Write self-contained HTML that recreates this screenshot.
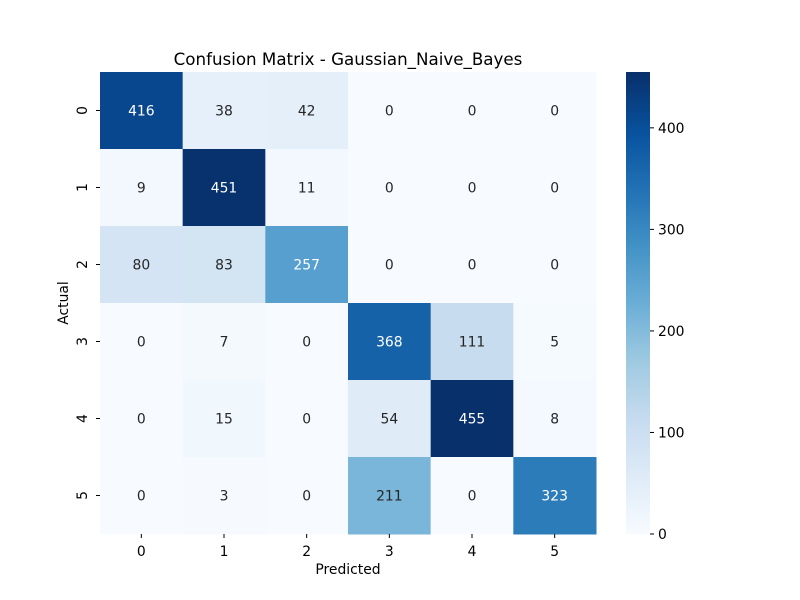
<!DOCTYPE html>
<html><head><meta charset="utf-8"><style>body{margin:0;background:#fff}svg{display:block;font-family:"DejaVu Sans","Liberation Sans",sans-serif}</style></head>
<body>
<svg id="chart" width="800" height="600" xmlns="http://www.w3.org/2000/svg">
<rect width="800" height="600" fill="#fff"/>
<text x="348" y="65" text-anchor="middle" font-size="16.7">Confusion Matrix - Gaussian_Naive_Bayes</text>
<g id="cells"></g><g id="axes"></g><g id="cbar"></g>
<text x="348" y="574" text-anchor="middle" font-size="13.9">Predicted</text>
<text transform="translate(68,303) rotate(-90)" text-anchor="middle" font-size="13.9">Actual</text>
</svg>
<script>
const classLabels = ["0","1","2","3","4","5"];
const row0 = [416,38,42,0,0,0];
const row1 = [9,451,11,0,0,0];
const row2 = [80,83,257,0,0,0];
const row3 = [0,7,0,368,111,5];
const row4 = [0,15,0,54,455,8];
const row5 = [0,3,0,211,0,323];
const matrix = [row0,row1,row2,row3,row4,row5];
const cbarTicks = [0,100,200,300,400];

const NS="http://www.w3.org/2000/svg";
const X0=100,X1=596,Y0=72,Y1=534;
const n=classLabels.length, cw=(X1-X0)/n, ch=(Y1-Y0)/n;
const vmax=Math.max(...matrix.flat()), vmin=Math.min(...matrix.flat());
const stops=["#f7fbff","#deebf7","#c6dbef","#9ecae1","#6baed6","#4292c6","#2171b5","#08519c","#08306b"].map(h=>[1,3,5].map(i=>parseInt(h.substr(i,2),16)));
function cmap(t){t=Math.max(0,Math.min(1,t));const p=t*8,i=Math.min(7,Math.floor(p)),f=p-i;return stops[i].map((c,k)=>Math.round(c+(stops[i+1][k]-c)*f));}
function lum(c){const l=c.map(v=>{v/=255;return v<=0.03928?v/12.92:Math.pow((v+0.055)/1.055,2.4)});return 0.2126*l[0]+0.7152*l[1]+0.0722*l[2];}
function el(t,a,p,txt){const e=document.createElementNS(NS,t);for(const k in a)e.setAttribute(k,a[k]);if(txt!==undefined)e.textContent=txt;p.appendChild(e);return e;}
const norm=v=>(v-vmin)/(vmax-vmin);
const cells=document.getElementById('cells'),axes=document.getElementById('axes'),cb=document.getElementById('cbar');
matrix.forEach((row,r)=>row.forEach((v,c)=>{
 const col=cmap(norm(v));
 const rc=el('rect',{x:X0+c*cw,y:Y0+r*ch,width:cw+0.5,height:ch+0.5,fill:`rgb(${col})`},cells);
 
 
 const t=el('text',{x:X0+(c+0.5)*cw,y:Y0+(r+0.5)*ch+5,'text-anchor':'middle','font-size':13.9,fill:lum(col)<0.408?'#fff':'#262626'},cells,String(v));
 
 
}));
classLabels.forEach((lab,i)=>{
 const x=X0+(i+0.5)*cw;
 el('line',{x1:x,x2:x,y1:Y1,y2:Y1+4,stroke:'#000'},axes);
 const t=el('text',{x:x,y:Y1+22,'text-anchor':'middle','font-size':13.9},axes,lab);
 
 
 const y=Y0+(i+0.5)*ch;
 el('line',{x1:X0-4,x2:X0,y1:y,y2:y,stroke:'#000'},axes);
 const t2=el('text',{transform:`translate(87,${y}) rotate(-90)`,'text-anchor':'middle','font-size':13.9},axes,lab);
 
 
});
const CX0=626,CX1=650,steps=200;
for(let i=0;i<steps;i++){const col=cmap((i+0.5)/steps);const h=(Y1-Y0)/steps;
 const r=el('rect',{x:CX0,y:Y1-(i+1)*h,width:CX1-CX0,height:h+0.6,fill:`rgb(${col})`},cb);
 
 }
cbarTicks.forEach(v=>{const y=Y1-(v-vmin)/(vmax-vmin)*(Y1-Y0);
 el('line',{x1:CX1,x2:CX1+4,y1:y,y2:y,stroke:'#000'},cb);
 const t=el('text',{x:CX1+8,y:y+5,'font-size':13.9},cb,String(v));
 
 });
</script>
</body></html>
